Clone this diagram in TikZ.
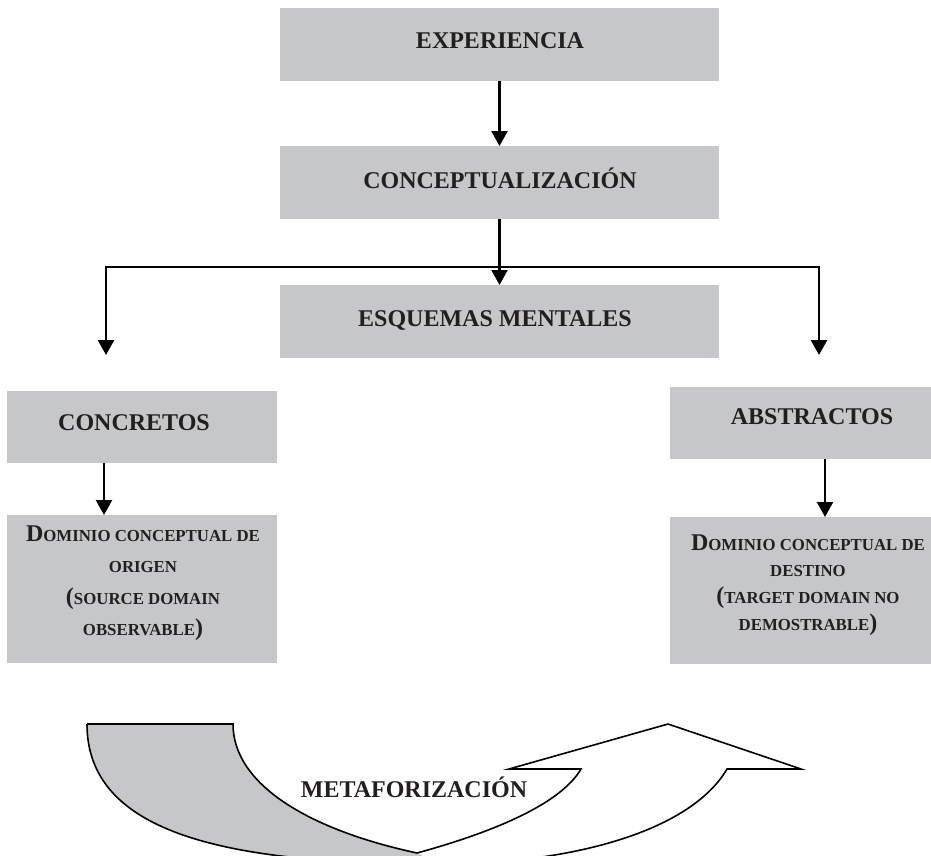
\documentclass[tikz,border=0pt]{standalone}
\usepackage{fontspec}
\setmainfont{Liberation Serif}
\usetikzlibrary{arrows.meta}
\definecolor{boxgray}{RGB}{198,199,201}
\definecolor{ink}{RGB}{35,31,32}
\newcommand\smc[1]{{\fontsize{16.8pt}{16.8pt}\selectfont #1}}
\begin{document}
\begin{tikzpicture}[x=1pt,y=-1pt,
  box/.style={fill=boxgray, draw=none, inner sep=0pt, outer sep=0pt, anchor=north west},
  lbl/.style={font=\fontsize{24pt}{28pt}\selectfont\bfseries, text=ink, inner sep=0pt, anchor=base},
  tip/.style={-{Triangle[width=16pt,length=15pt]}},
  arr/.style={draw=black, line width=2.2pt, tip},
  outline/.style={draw=black, line width=1.6pt, line join=miter}]
\useasboundingbox (0,0) rectangle (931,855);
\clip (0,0) rectangle (931,855);

% boxes
\node[box, minimum width=439pt, minimum height=73pt] (exp) at (280,8) {};
\node[box, minimum width=439pt, minimum height=73pt] (con) at (280,146) {};
\node[box, minimum width=439pt, minimum height=73pt] (esq) at (280,285) {};
\node[box, minimum width=270pt, minimum height=72pt] (concr) at (7,391) {};
\node[box, minimum width=261pt, minimum height=72pt] (abst) at (670,387) {};
\node[box, minimum width=270pt, minimum height=148pt] (dorig) at (7,515) {};
\node[box, minimum width=261pt, minimum height=147pt] (ddest) at (670,517) {};

% labels
\node[lbl] (texp) at (500,48) {EXPERIENCIA};
\node[lbl] (tcon) at (500,188) {CONCEPTUALIZACIÓN};
\node[lbl] (tesq) at (495,326) {ESQUEMAS MENTALES};
\node[lbl] (tconcr) at (134,430) {CONCRETOS};
\node[lbl] (tabst) at (812,424) {ABSTRACTOS};

\node[lbl] (o1) at (143,541) {D\smc{OMINIO CONCEPTUAL DE}};
\node[lbl] (o2) at (143,572.5) {\smc{ORIGEN}};
\node[lbl] (o3) at (143,604) {(\smc{SOURCE DOMAIN}};
\node[lbl] (o4) at (143,635.5) {\smc{OBSERVABLE})};

\node[lbl] (d1) at (808,550) {D\smc{OMINIO CONCEPTUAL DE}};
\node[lbl] (d2) at (808,576) {\smc{DESTINO}};
\node[lbl] (d3) at (808,603) {(\smc{TARGET DOMAIN NO}};
\node[lbl] (d4) at (808,630) {\smc{DEMOSTRABLE})};

% connectors
\draw[arr] (exp.south) -- (con.north);
\draw[arr] (con.south) -- (esq.north);
\coordinate (hl) at (106,267);
\coordinate (hr) at (819,267);
\coordinate (tl) at (106,355);
\coordinate (tr) at (819,355);
\draw[line width=2.7pt, {Triangle[width=16pt,length=15pt]}-{Triangle[width=16pt,length=15pt]}] (tl) -- (hl) -- (hr) -- (tr);
\draw[arr] (104,0 |- concr.south) -- (104,0 |- dorig.north);
\draw[arr] (825,0 |- abst.south) -- (825,0 |- ddest.north);

% curved arrow (metaforizacion)
\coordinate (gtl) at (87,724);
\coordinate (gtr) at (233,724);
\coordinate (cusp) at (417,853);
\coordinate (bot) at (440,864);
\coordinate (rn) at (727,769);
\coordinate (rb) at (801,769);
\coordinate (apex) at (668,724);
\coordinate (lb) at (509,769);
\coordinate (ln) at (581,769);
\fill[boxgray] (gtl) -- (gtr) .. controls (233,785) and (310,830) .. (cusp) -- (bot)
   .. controls (230,864) and (87,835) .. (gtl) -- cycle;
\draw[outline] (gtl) -- (gtr) .. controls (233,785) and (310,830) .. (cusp);
\draw[outline] (gtl) .. controls (87,835) and (230,864) .. (bot)
   .. controls (570,864) and (690,832) .. (rn) -- (rb) -- (apex) -- (lb) -- (ln)
   .. controls (560,805) and (490,833) .. (cusp);
\node[lbl] (tmet) at (414,797) {METAFORIZACIÓN};
\end{tikzpicture}
\end{document}
